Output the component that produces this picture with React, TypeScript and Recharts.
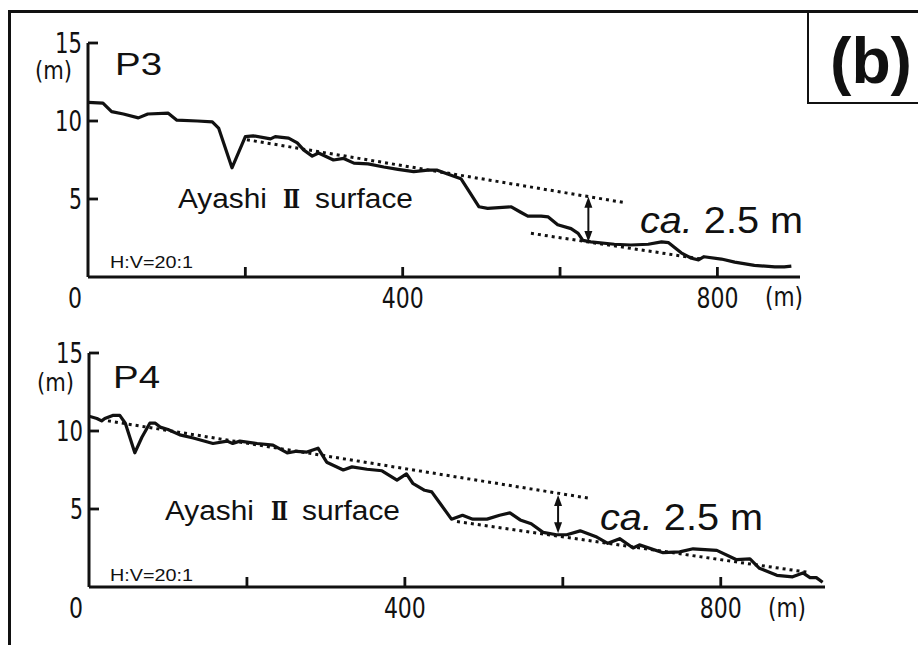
import { LineChart, Line, XAxis, YAxis, ReferenceLine } from 'recharts';

// P3 profile (distance m, elevation m)
const p3Dist = [0, 19, 30, 45, 64, 76, 102, 113, 139, 158, 166, 183, 200, 210, 232, 238, 255, 266, 274, 285, 293, 312, 325, 338, 356, 376, 394, 414, 432, 444, 457, 474, 483, 497, 508, 538, 550, 559, 576, 585, 597, 614, 623, 629, 639, 669, 690, 712, 729, 738, 754, 767, 776, 783, 805, 822, 847, 873, 885, 894];
const p3Elev = [11.2, 11.15, 10.6, 10.45, 10.2, 10.45, 10.5, 10.05, 10.0, 9.95, 9.55, 7.0, 9.0, 9.05, 8.85, 9.0, 8.9, 8.6, 8.15, 7.75, 7.95, 7.5, 7.6, 7.3, 7.25, 7.05, 6.9, 6.75, 6.85, 6.85, 6.6, 6.3, 5.6, 4.5, 4.4, 4.5, 4.15, 3.9, 3.9, 3.85, 3.35, 3.1, 2.8, 2.35, 2.25, 2.1, 2.05, 2.1, 2.25, 2.2, 1.55, 1.2, 1.1, 1.3, 1.15, 0.95, 0.75, 0.65, 0.65, 0.7];

// P4 profile
const p4Dist = [0, 10, 16, 20, 30, 39, 46, 58, 67, 77, 84, 90, 100, 115, 132, 157, 175, 182, 191, 213, 233, 251, 263, 276, 290, 301, 322, 333, 352, 371, 390, 402, 410, 425, 434, 444, 459, 473, 486, 504, 520, 533, 546, 560, 575, 592, 605, 622, 643, 657, 672, 689, 697, 727, 748, 765, 795, 820, 837, 849, 871, 891, 904, 913, 921, 929];
const p4Elev = [10.95, 10.8, 10.65, 10.8, 11.0, 11.0, 10.5, 8.6, 9.6, 10.5, 10.5, 10.25, 10.1, 9.75, 9.55, 9.2, 9.35, 9.2, 9.35, 9.2, 9.1, 8.6, 8.7, 8.65, 8.9, 8.0, 7.5, 7.7, 7.55, 7.45, 6.85, 7.25, 6.65, 6.2, 6.1, 5.4, 4.35, 4.6, 4.35, 4.35, 4.6, 4.75, 4.3, 4.05, 3.5, 3.35, 3.35, 3.6, 3.2, 2.8, 3.1, 2.5, 2.7, 2.2, 2.25, 2.45, 2.35, 1.75, 1.8, 1.2, 0.75, 0.65, 0.9, 0.6, 0.6, 0.3];

// fitted surfaces (dotted) and offset arrows: [distance, elevation]
const p3Upper = [[202, 8.8], [684, 4.75]];
const p3Lower = [[563, 2.8], [780, 1.15]];
const p3Arrow = [[636, 5.15], [636, 2.25]];
const p4Upper = [[24, 10.65], [632, 5.7]];
const p4Lower = [[466, 4.2], [909, 0.95]];
const p4Arrow = [[594, 5.9], [594, 3.45]];

const xTicks = [0, 200, 400, 600, 800];
const xTickLabels = ['0', '', '400', '', '800'];
const yTicks = [5, 10, 15];

const NUM_FONT = '"Liberation Sans Narrow", "DejaVu Sans Condensed", "Arial Narrow", sans-serif';
const SANS = '"Liberation Sans", Arial, sans-serif';
const INK = '#111';
const DIGIT_W = 14;

function YTick({ x, y, payload }: any) {
  const s = String(payload.value);
  return (
    <g>
      <line x1={x} x2={x + 10} y1={y} y2={y} stroke={INK} strokeWidth={2.8} />
      <text x={x - 6} y={y + 10} textAnchor="end" fontFamily={NUM_FONT} fontSize={29}
        textLength={s.length * DIGIT_W - 1} lengthAdjust="spacingAndGlyphs" fill={INK}>
        {s}
      </text>
    </g>
  );
}

function XTick({ x, y, payload }: any) {
  const v = payload.value;
  const label = xTickLabels[xTicks.indexOf(v)];
  return (
    <g>
      {v !== 0 && <line x1={x} x2={x} y1={y} y2={y - 10} stroke={INK} strokeWidth={2.8} />}
      {label && (
        <text x={v === 0 ? x - 13 : x} y={y + 31} textAnchor="middle" fontFamily={NUM_FONT} fontSize={29}
          textLength={label.length * DIGIT_W} lengthAdjust="spacingAndGlyphs" fill={INK}>
          {label}
        </text>
      )}
    </g>
  );
}

function DoubleArrow(props: any) {
  const { x1, y1, x2, y2 } = props;
  const top = Math.min(y1, y2);
  const bot = Math.max(y1, y2);
  return (
    <g>
      <line x1={x1} x2={x2} y1={top + 6} y2={bot - 6} stroke={INK} strokeWidth={2} />
      <polygon points={`${x1},${top} ${x1 - 4},${top + 11} ${x1 + 4},${top + 11}`} fill={INK} />
      <polygon points={`${x1},${bot} ${x1 - 4},${bot - 11} ${x1 + 4},${bot - 11}`} fill={INK} />
    </g>
  );
}

type Txt = { x: number; y: number };

function Panel({
  top, left, right, dist, elev, xMax, upper, lower, arrow, name, pPos, mPos, ayaX, ayaY, hvPos, caPos, xmPos,
}: {
  top: number; left: number; right: number; dist: number[]; elev: number[]; xMax: number;
  upper: number[][]; lower: number[][]; arrow: number[][]; name: string;
  pPos: Txt; mPos: Txt; ayaX: number[]; ayaY: number; hvPos: Txt; caPos: Txt; xmPos: Txt;
}) {
  const data = dist.map((d, i) => ({ x: d, h: elev[i] }));
  const seg = (s: number[][]) => [{ x: s[0][0], y: s[0][1] }, { x: s[1][0], y: s[1][1] }];
  return (
    <div style={{ position: 'absolute', left: 0, top, width: 918, height: 320 }}>
      {/* axis width/height 1 px, so plot starts at left and ends 43 px above the bottom */}
      <LineChart width={918} height={320} data={data} margin={{ top: 43, left: left - 1, right, bottom: 42 }}>
        <XAxis
          type="number"
          dataKey="x"
          domain={[0, xMax]}
          ticks={xTicks}
          height={1}
          tickSize={0}
          tickMargin={0}
          tickLine={false}
          tick={<XTick />}
          axisLine={{ stroke: INK, strokeWidth: 3 }}
          interval={0}
          allowDataOverflow
        />
        <YAxis
          type="number"
          domain={[0, 15]}
          ticks={yTicks}
          width={1}
          tickSize={0}
          tickMargin={0}
          tickLine={false}
          tick={<YTick />}
          axisLine={{ stroke: INK, strokeWidth: 3 }}
          interval={0}
          allowDataOverflow
        />
        <ReferenceLine segment={seg(upper)} stroke={INK} strokeWidth={3} strokeDasharray="3 4" ifOverflow="visible" />
        <ReferenceLine segment={seg(lower)} stroke={INK} strokeWidth={3} strokeDasharray="3 4" ifOverflow="visible" />
        <ReferenceLine segment={seg(arrow)} ifOverflow="visible" shape={DoubleArrow} />
        <Line
          type="linear"
          dataKey="h"
          stroke={INK}
          strokeWidth={3.2}
          strokeLinejoin="round"
          dot={false}
          isAnimationActive={false}
        />
      </LineChart>
      <svg width={918} height={320} style={{ position: 'absolute', left: 0, top: 0, pointerEvents: 'none' }}>
        <text x={pPos.x} y={pPos.y} fontFamily={SANS} fontSize={31} textLength={47} lengthAdjust="spacingAndGlyphs" fill={INK}>{name}</text>
        <text x={mPos.x} y={mPos.y} fontFamily={NUM_FONT} fontSize={24} textLength={37} lengthAdjust="spacingAndGlyphs" fill={INK}>(m)</text>
        <text x={ayaX[0]} y={ayaY} fontFamily={SANS} fontSize={27} textLength={89} lengthAdjust="spacingAndGlyphs" fill={INK}>Ayashi</text>
        <text x={ayaX[1]} y={ayaY} fontFamily='"DejaVu Serif", serif' fontWeight="bold" fontSize={26} textLength={17} lengthAdjust="spacingAndGlyphs" fill={INK}>Ⅱ</text>
        <text x={ayaX[2]} y={ayaY} fontFamily={SANS} fontSize={27} textLength={98} lengthAdjust="spacingAndGlyphs" fill={INK}>surface</text>
        <text x={hvPos.x} y={hvPos.y} fontFamily={SANS} fontSize={17} textLength={83} lengthAdjust="spacingAndGlyphs" fill={INK}>H:V=20:1</text>
        <text x={caPos.x} y={caPos.y} fontFamily={SANS} fontSize={37} textLength={163} lengthAdjust="spacingAndGlyphs" fill={INK}>
          <tspan fontStyle="italic">ca.</tspan> 2.5 m
        </text>
        <text x={xmPos.x} y={xmPos.y} fontFamily={NUM_FONT} fontSize={26} textLength={38} lengthAdjust="spacingAndGlyphs" fill={INK}>(m)</text>
      </svg>
    </div>
  );
}

export default function App() {
  return (
    <div style={{ position: 'absolute', left: 0, top: 0, width: 918, height: 645, overflow: 'hidden', background: '#fff' }}>
      <div style={{ position: 'absolute', left: 8, top: 10, width: 940, height: 700, borderTop: `3px solid ${INK}`, borderLeft: `3px solid ${INK}` }} />
      <div style={{ position: 'absolute', left: 807, top: 10, width: 140, height: 92, borderLeft: `2px solid ${INK}`, borderBottom: `2px solid ${INK}` }} />
      <svg width={918} height={110} style={{ position: 'absolute', left: 0, top: 0 }}>
        <text x={830} y={83} fontFamily={SANS} fontWeight="bold" fontSize={64} textLength={82} lengthAdjust="spacingAndGlyphs" fill={INK}>(b)</text>
      </svg>
      <Panel
        top={0} left={88} right={118} dist={p3Dist} elev={p3Elev} xMax={905}
        upper={p3Upper} lower={p3Lower} arrow={p3Arrow} name="P3"
        pPos={{ x: 115, y: 75 }} mPos={{ x: 35, y: 79 }} ayaX={[178, 283, 315]} ayaY={208}
        hvPos={{ x: 110, y: 268 }} caPos={{ x: 640, y: 233 }} xmPos={{ x: 765, y: 306 }}
      />
      <Panel
        top={310} left={89} right={93} dist={p4Dist} elev={p4Elev} xMax={932}
        upper={p4Upper} lower={p4Lower} arrow={p4Arrow} name="P4"
        pPos={{ x: 113, y: 78 }} mPos={{ x: 37, y: 81 }} ayaX={[165, 271, 302]} ayaY={210}
        hvPos={{ x: 110, y: 271 }} caPos={{ x: 600, y: 220 }} xmPos={{ x: 768, y: 307 }}
      />
    </div>
  );
}
